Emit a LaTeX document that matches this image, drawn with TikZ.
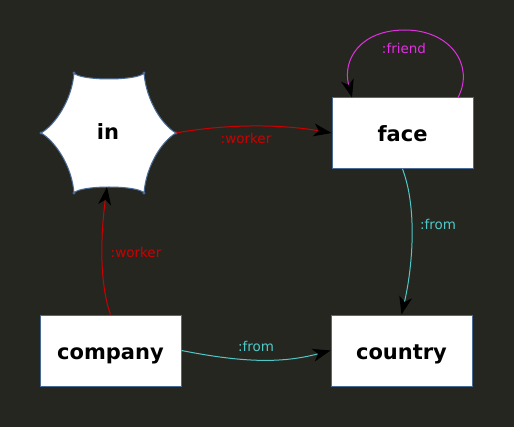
\documentclass[tikz,border=0pt]{standalone}
\usepackage{fontspec}
\setmainfont{DejaVu Sans}
\usetikzlibrary{arrows.meta}
\definecolor{bg}{HTML}{262621}
\definecolor{bord}{HTML}{4A6A96}
\definecolor{wred}{HTML}{CC0000}
\definecolor{fcyan}{HTML}{4FC8C8}
\definecolor{fmag}{HTML}{E030E0}
\tikzset{
  entity/.style={draw=bord, line width=0.9pt, fill=white, minimum width=141pt, minimum height=71pt, inner sep=0pt, text height=17.4pt, text depth=0pt, font=\fontsize{21}{24}\selectfont\bfseries},
  rel/.style={line width=1pt, -{Stealth[black, length=18pt, width=13pt, inset=5pt]}},
  lab/.style={font=\fontsize{13.5}{15}\selectfont, inner sep=0pt},
}
\begin{document}
\begin{tikzpicture}[x=1pt,y=-1pt]
\fill[bg] (0,0) rectangle (514,427);
\useasboundingbox (0,0) rectangle (514,427);
% hexagon
\coordinate (h1) at (41,133);
\coordinate (h2) at (74,73);
\coordinate (h3) at (144,73);
\coordinate (h4) at (176,133);
\coordinate (h5) at (144,193);
\coordinate (h6) at (74,193);
\filldraw[draw=bord, fill=white, line width=1pt, line join=round]
  (h1) .. controls (55,125) and (72,100) .. (h2)
  .. controls (80,81) and (138,81) .. (h3)
  .. controls (146,100) and (162,125) .. (h4)
  .. controls (162,141) and (146,166) .. (h5)
  .. controls (138,185) and (80,185) .. (h6)
  .. controls (72,166) and (55,141) .. (h1) -- cycle;
\foreach \c in {h1,h2,h3,h4,h5,h6} \fill[bord] (\c) circle (1.6pt);
\node[font=\fontsize{21}{24}\selectfont\bfseries, inner sep=0pt, text height=14pt, text depth=0pt] (in) at (108,133) {in};
\coordinate (inR) at (176,133);
\coordinate (inB) at (107,187);
\node[entity] (face) at (402.5,133) {face};
\node[entity] (company) at (110.5,350.5) {company};
\node[entity] (country) at (401.5,350.5) {country};
% edges
\draw[rel, wred] (company.north) .. controls (100,285) and (100,240) .. (inB);
\node[lab, text=wred] (l1) at (136,252) {:worker};
\draw[rel, wred] (inR) .. controls (225,124) and (280,124) .. (face.west);
\node[lab, text=wred] (l2) at (246,138) {:worker};
\draw[rel, fcyan] (face.south) .. controls (418,210) and (412,270) .. (country.north);
\node[lab, text=fcyan] (l3) at (438,224) {:from};
\draw[rel, fcyan] (company.east) .. controls (240,362) and (280,364) .. (country.west);
\node[lab, text=fcyan] (l4) at (256,346) {:from};
\coordinate (fa) at (458,97.5);
\coordinate (fb) at (352,97.5);
\draw[rel, fmag] (fa) .. controls (475,65) and (450,30) .. (405,30) .. controls (360,30) and (342,60) .. (fb);
\node[lab, text=fmag] (l5) at (404,48) {:friend};
\end{tikzpicture}
\end{document}
